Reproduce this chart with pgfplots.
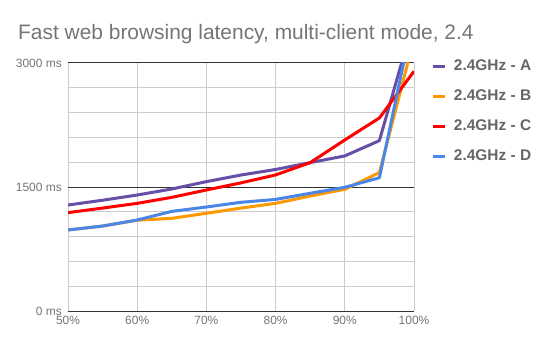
\documentclass[border=0pt]{standalone}
\usepackage{pgfplots}
\pgfplotsset{compat=1.18}
\usepackage{fontspec}
\setmainfont{Liberation Sans}
\definecolor{cA}{HTML}{674EA7}
\definecolor{cB}{HTML}{FF9900}
\definecolor{cC}{HTML}{FF0000}
\definecolor{cD}{HTML}{4A86E8}
\definecolor{titlegray}{HTML}{757575}
\definecolor{labgray}{HTML}{757575}
\definecolor{leggray}{HTML}{666666}
\definecolor{gridgray}{HTML}{CCCCCC}
\definecolor{darkgrid}{HTML}{333333}
\begin{document}
\begin{tikzpicture}[x=1bp,y=1bp]
\path[use as bounding box] (0,0) rectangle (550,348);
\node[anchor=base west, inner sep=0, text=titlegray, font=\fontsize{21}{24}\selectfont] at (18,309) {Fast web browsing latency, multi-client mode, 2.4};
\begin{axis}[
  at={(68bp,37bp)}, anchor=south west,
  scale only axis, width=346bp, height=248bp,
  xmin=50, xmax=100, ymin=0, ymax=3000,
  axis line style={draw=none},
  tick style={draw=none},
  xtick={50,60,70,80,90,100},
  xticklabels={50\%,60\%,70\%,80\%,90\%,100\%},
  ytick={0,1500,3000},
  yticklabels={0 ms,1500 ms,3000 ms},
  minor ytick={300,600,900,1200,1800,2100,2400,2700},
  /pgf/number format/assume math mode=true,
  grid=both,
  major x grid style={gridgray, line width=1bp},
  major y grid style={darkgrid, line width=1bp},
  minor y grid style={gridgray, line width=1bp},
  xticklabel style={font=\fontsize{12}{14}\selectfont, text=labgray, inner sep=0pt, yshift=-5bp, anchor=north},
  yticklabel style={font=\fontsize{12}{14}\selectfont, text=labgray, inner sep=0pt, xshift=-6bp, anchor=east},
  legend cell align=left,
  legend style={draw=none, fill=none, at={(1.052,1.048)}, anchor=north west,
    inner sep=0pt, outer sep=0pt, row sep=0pt, column sep=7bp,
    font=\bfseries\fontsize{15.5}{18}\selectfont, text=leggray,
    nodes={inner sep=0pt, minimum height=30bp}},
  legend image code/.code={\draw[#1, line width=3bp] (0bp,0bp) -- (12bp,0bp);},
  every axis plot/.append style={line width=3bp, line join=round},
]
\addplot[cA] coordinates {(50,1282) (55,1340) (60,1403) (65,1476) (70,1565) (75,1645) (80,1712) (85,1795) (90,1876) (95,2061) (99,3233)};
\addlegendentry{2.4GHz - A}
\addplot[cB] coordinates {(50,980) (55,1028) (60,1098) (65,1121) (70,1182) (75,1245) (80,1302) (85,1391) (90,1472) (95,1675) (99,2968) (100,3500)};
\addlegendentry{2.4GHz - B}
\addplot[cC] coordinates {(50,1190) (55,1245) (60,1302) (65,1375) (70,1464) (75,1550) (80,1646) (85,1795) (90,2069) (95,2335) (100,2900)};
\addlegendentry{2.4GHz - C}
\addplot[cD] coordinates {(50,980) (55,1028) (60,1101) (65,1205) (70,1258) (75,1315) (80,1350) (85,1424) (90,1496) (95,1612) (99,3200)};
\addlegendentry{2.4GHz - D}
\end{axis}
\end{tikzpicture}
\end{document}
